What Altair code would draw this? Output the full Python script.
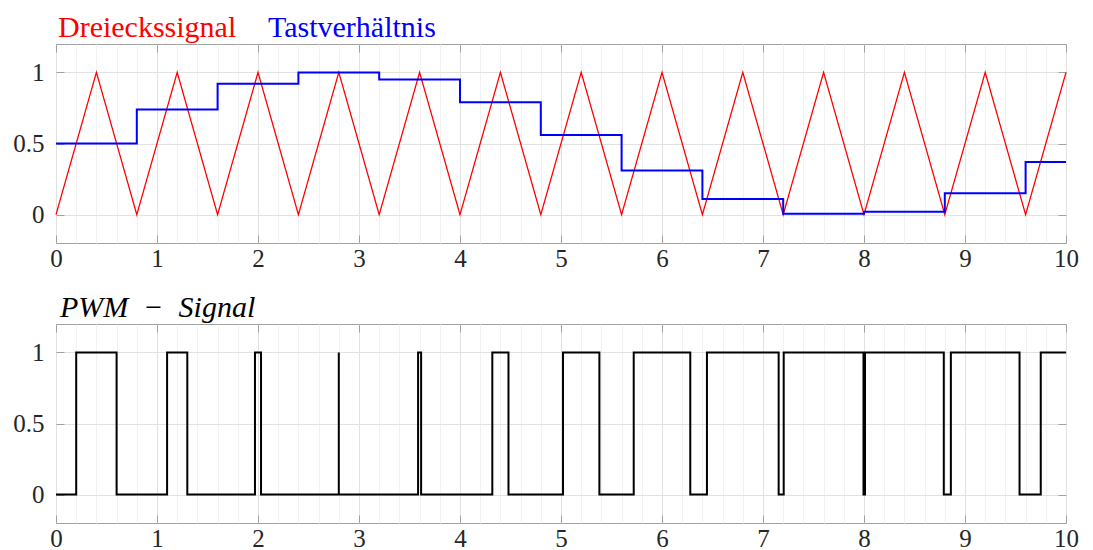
import altair as alt
import pandas as pd

# ---- data ----
tri_x = [0.0, 0.4, 0.8, 1.2, 1.6, 2.0, 2.4, 2.8, 3.2, 3.6, 4.0, 4.4, 4.8,
         5.2, 5.6, 6.0, 6.4, 6.8, 7.2, 7.6, 8.0, 8.4, 8.8, 9.2, 9.6, 10.0]
tri_y = [0, 1, 0, 1, 0, 1, 0, 1, 0, 1, 0, 1, 0,
         1, 0, 1, 0, 1, 0, 1, 0, 1, 0, 1, 0, 1]

duty_x = [0.0, 0.8, 1.6, 2.4, 3.2, 4.0, 4.8, 5.6, 6.4, 7.2, 8.0, 8.8, 9.6, 10.0]
duty_y = [0.50, 0.74, 0.92, 1.00, 0.95, 0.79, 0.56, 0.31, 0.11, 0.005, 0.02, 0.15, 0.37, 0.37]

pwm_on = [0.20, 1.10, 1.97, 2.80, 3.585, 4.32, 5.02, 5.72, 6.445, 7.205, 8.01, 8.86, 9.75]
pwm_off = [0.60, 1.30, 2.03, 2.80, 3.615, 4.48, 5.38, 6.28, 7.155, 7.995, 8.79, 9.54, 10.0]

x_major = [0, 1, 2, 3, 4, 5, 6, 7, 8, 9, 10]
x_minor = [round(0.2 * k, 1) for k in range(1, 50)]
y_ticks = [0, 0.5, 1]

# ---- tables ----
tri_df = pd.DataFrame({"x": tri_x, "y": tri_y, "i": range(len(tri_x))})
duty_df = pd.DataFrame({"x": duty_x, "y": duty_y})

px, py = [0.0], [0]
for s, e in zip(pwm_on, pwm_off):
    px += [s, s, e]
    py += [0, 1, 1]
    if e < 10:
        px.append(e)
        py.append(0)
pwm_df = pd.DataFrame({"x": px, "y": py, "i": range(len(px))})

FONT = "Liberation Serif"
GRID_MINOR = "#f2f2f2"
GRID_MAJOR = "#e2e2e2"
TICK_COL = "#a0a0a0"
W, H = 1010, 199

xs = alt.Scale(domain=[0, 10], nice=False, zero=False)
ys = alt.Scale(domain=[-0.2, 1.2], nice=False, zero=False)


def axis_layers(df):
    base = alt.Chart(df).mark_line(opacity=0)
    grid_minor = base.encode(
        x=alt.X("x:Q", scale=xs, title=None,
                axis=alt.Axis(orient="bottom", values=x_minor, grid=True, gridColor=GRID_MINOR,
                              labels=False, ticks=False, domain=False)),
        y=alt.Y("y:Q", scale=ys, title=None,
                axis=alt.Axis(orient="left", values=y_ticks, grid=True, gridColor=GRID_MAJOR,
                              labels=False, ticks=False, domain=False)),
    )
    grid_major = base.encode(
        x=alt.X("x:Q", scale=xs, title=None,
                axis=alt.Axis(orient="bottom", values=x_major, grid=True, gridColor=GRID_MAJOR,
                              labels=False, ticks=False, domain=False)),
        y=alt.Y("y:Q", scale=ys, title=None, axis=None),
    )
    ticks_bl = base.encode(
        x=alt.X("x:Q", scale=xs, title=None,
                axis=alt.Axis(orient="bottom", values=x_major, grid=False, domain=False,
                              offset=-8, tickSize=8, tickColor=TICK_COL, labelPadding=3,
                              labelFont=FONT, labelFontSize=25, labelColor="#262626",
                              format="d", labelFlush=False)),
        y=alt.Y("y:Q", scale=ys, title=None,
                axis=alt.Axis(orient="left", values=y_ticks, grid=False, domain=False,
                              offset=-8, tickSize=8, tickColor=TICK_COL, labelPadding=12,
                              labelFont=FONT, labelFontSize=25, labelColor="#262626",
                              labelExpr="datum.value == 0.5 ? '0.5' : format(datum.value, 'd')")),
    )
    ticks_tr = base.encode(
        x=alt.X("x:Q", scale=xs, title=None,
                axis=alt.Axis(orient="top", values=x_major, grid=False, domain=False,
                              offset=-8, tickSize=8, tickColor=TICK_COL, labels=False)),
        y=alt.Y("y:Q", scale=ys, title=None,
                axis=alt.Axis(orient="right", values=y_ticks, grid=False, domain=False,
                              offset=-8, tickSize=8, tickColor=TICK_COL, labels=False)),
    )
    return [grid_minor, grid_major, ticks_bl, ticks_tr]


def label(text, color, x, italic=False):
    return alt.Chart(pd.DataFrame({"t": [text]})).mark_text(
        align="left", baseline="alphabetic", font=FONT, fontSize=30,
        fontStyle="italic" if italic else "normal", color=color,
    ).encode(x=alt.value(x), y=alt.value(-7), text="t:N")


def data_line(df, color, width, **kw):
    enc = dict(x=alt.X("x:Q", scale=xs, axis=None), y=alt.Y("y:Q", scale=ys, axis=None))
    if "i" in df.columns:
        enc["order"] = "i:Q"
    return alt.Chart(df).mark_line(color=color, strokeWidth=width, **kw).encode(**enc)


tri_line = data_line(tri_df, "#ff0000", 1.3)
duty_line = data_line(duty_df, "#0000ff", 2, interpolate="step-after")
pwm_line = data_line(pwm_df, "#000000", 2)

top = alt.layer(
    *axis_layers(tri_df), tri_line, duty_line,
    label("Dreieckssignal", "#ff0000", 2),
    label("Tastverhältnis", "#0000ff", 212),
).resolve_axis(x="independent", y="independent").properties(width=W, height=H)

bottom = alt.layer(
    *axis_layers(pwm_df), pwm_line,
    label("PWM\u2002\u2212\u2002Signal", "#000000", 4, italic=True),
).resolve_axis(x="independent", y="independent").properties(width=W, height=H)

chart = alt.vconcat(top, bottom, spacing=20).properties(
    padding={"left": 4, "top": 4, "right": 5, "bottom": 5}
).configure_view(stroke=TICK_COL, strokeWidth=1).configure_axis(zindex=0)

chart.save("out.html", embed_options={"renderer": "svg", "actions": False})
